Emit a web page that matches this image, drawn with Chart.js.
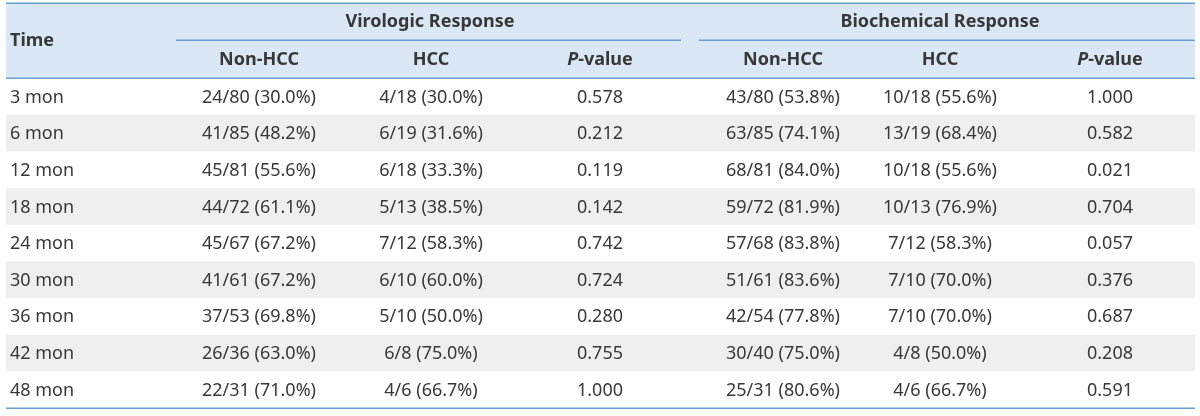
<!DOCTYPE html>
<html>
<head>
<meta charset="utf-8">
<script src="https://cdn.jsdelivr.net/npm/chart.js@4"></script>
<style>
  html, body { margin: 0; padding: 0; background: #fff; }
  #wrap { width: 1200px; height: 416px; position: relative; }
</style>
</head>
<body>
<div id="wrap"><canvas id="tableChart"></canvas></div>
<script>
// row labels
const times = ["3 mon", "6 mon", "12 mon", "18 mon", "24 mon", "30 mon", "36 mon", "42 mon", "48 mon"];

// virologic response
const viroNonHcc = ["24/80 (30.0%)", "41/85 (48.2%)", "45/81 (55.6%)", "44/72 (61.1%)", "45/67 (67.2%)",
  "41/61 (67.2%)", "37/53 (69.8%)", "26/36 (63.0%)", "22/31 (71.0%)"];
const viroHcc = ["4/18 (30.0%)", "6/19 (31.6%)", "6/18 (33.3%)", "5/13 (38.5%)", "7/12 (58.3%)",
  "6/10 (60.0%)", "5/10 (50.0%)", "6/8 (75.0%)", "4/6 (66.7%)"];
const viroP = ["0.578", "0.212", "0.119", "0.142", "0.742", "0.724", "0.280", "0.755", "1.000"];

// biochemical response
const bioNonHcc = ["43/80 (53.8%)", "63/85 (74.1%)", "68/81 (84.0%)", "59/72 (81.9%)", "57/68 (83.8%)",
  "51/61 (83.6%)", "42/54 (77.8%)", "30/40 (75.0%)", "25/31 (80.6%)"];
const bioHcc = ["10/18 (55.6%)", "13/19 (68.4%)", "10/18 (55.6%)", "10/13 (76.9%)", "7/12 (58.3%)",
  "7/10 (70.0%)", "7/10 (70.0%)", "4/8 (50.0%)", "4/6 (66.7%)"];
const bioP = ["1.000", "0.582", "0.021", "0.704", "0.057", "0.376", "0.687", "0.208", "0.591"];

// headers
const groupHeaders = ["Virologic Response", "Biochemical Response"];
const subHeaders = ["Non-HCC", "HCC", "P-value", "Non-HCC", "HCC", "P-value"];
const timeHeader = "Time";

// layout (x in table pixels, y in row units)
const colX = [4, 253, 425, 594, 777, 934, 1104];
const groupX = [424, 934];
const groupSpan = [[170, 675], [693, 1189]];
const yTop = -2.05;

const columns = [times, viroNonHcc, viroHcc, viroP, bioNonHcc, bioHcc, bioP];

const FONT = '"Noto Sans", sans-serif';
const SIZE = 18;
const TEXT = "#383838";
const BLUE = "#6a9fd2";

const datasets = columns.map((col, c) => ({
  label: c === 0 ? timeHeader : subHeaders[c - 1],
  data: col.map((v, i) => ({ x: colX[c], y: i + 0.5, text: v })),
  pointRadius: 0,
  pointHoverRadius: 0,
  showLine: false,
}));

const tablePlugin = {
  id: "tablePlugin",
  beforeDatasetsDraw(chart) {
    const { ctx, chartArea, scales } = chart;
    const x = scales.x, y = scales.y;
    const left = chartArea.left, right = chartArea.right;
    ctx.save();
    // header band
    ctx.fillStyle = "#dae8f6";
    ctx.fillRect(left, y.getPixelForValue(yTop), right - left, y.getPixelForValue(0) - y.getPixelForValue(yTop));
    // zebra rows
    ctx.fillStyle = "#efefef";
    times.forEach((t, i) => {
      if (i % 2 === 1) {
        const y0 = y.getPixelForValue(i), y1 = y.getPixelForValue(i + 1);
        ctx.fillRect(left, y0, right - left, y1 - y0);
      }
    });
    // lines
    ctx.strokeStyle = BLUE;
    ctx.lineWidth = 1.5;
    const hline = (v, x0, x1) => {
      const py = Math.round(y.getPixelForValue(v)) + 0.25;
      ctx.beginPath();
      ctx.moveTo(x0, py);
      ctx.lineTo(x1, py);
      ctx.stroke();
    };
    hline(yTop, left, right);
    hline(0, left, right);
    hline(times.length, left, right);
    groupSpan.forEach(([a, b]) => hline(-1.03, x.getPixelForValue(a), x.getPixelForValue(b)));
    ctx.restore();
  },
  afterDatasetsDraw(chart) {
    const { ctx, scales } = chart;
    const x = scales.x, y = scales.y;
    const reg = SIZE + "px " + FONT;
    const bold = "bold " + SIZE + "px " + FONT;
    const boldIt = "italic bold " + SIZE + "px " + FONT;
    ctx.save();
    ctx.fillStyle = TEXT;
    ctx.textBaseline = "middle";
    // body cells
    chart.data.datasets.forEach((ds, c) => {
      const meta = chart.getDatasetMeta(c);
      ctx.font = reg;
      ctx.textAlign = c === 0 ? "left" : "center";
      meta.data.forEach((el, i) => {
        ctx.fillText(ds.data[i].text, el.x, el.y + 1);
      });
    });
    // headers
    ctx.font = bold;
    ctx.textAlign = "left";
    ctx.fillText(timeHeader, x.getPixelForValue(colX[0]), y.getPixelForValue(-1.02));
    ctx.textAlign = "center";
    groupHeaders.forEach((g, k) => {
      ctx.fillText(g, x.getPixelForValue(groupX[k]), y.getPixelForValue(-1.53));
    });
    subHeaders.forEach((s, k) => {
      const px = x.getPixelForValue(colX[k + 1]);
      const py = y.getPixelForValue(-0.5);
      if (s.startsWith("P-")) {
        const rest = s.slice(1);
        ctx.font = boldIt;
        const wP = ctx.measureText("P").width;
        ctx.font = bold;
        const wR = ctx.measureText(rest).width;
        const start = px - (wP + wR) / 2;
        ctx.textAlign = "left";
        ctx.font = boldIt;
        ctx.fillText("P", start, py);
        ctx.font = bold;
        ctx.fillText(rest, start + wP, py);
        ctx.textAlign = "center";
      } else {
        ctx.fillText(s, px, py);
      }
    });
    ctx.restore();
  },
};

new Chart(document.getElementById("tableChart"), {
  type: "scatter",
  data: { datasets },
  options: {
    responsive: true,
    maintainAspectRatio: false,
    animation: false,
    events: [],
    layout: { padding: { left: 6, right: 5, top: 3, bottom: 8 } },
    plugins: { legend: { display: false }, tooltip: { enabled: false } },
    scales: {
      x: { type: "linear", min: 0, max: 1189, display: false },
      y: { type: "linear", min: yTop, max: times.length, reverse: true, display: false },
    },
  },
  plugins: [tablePlugin],
});
</script>
</body>
</html>
